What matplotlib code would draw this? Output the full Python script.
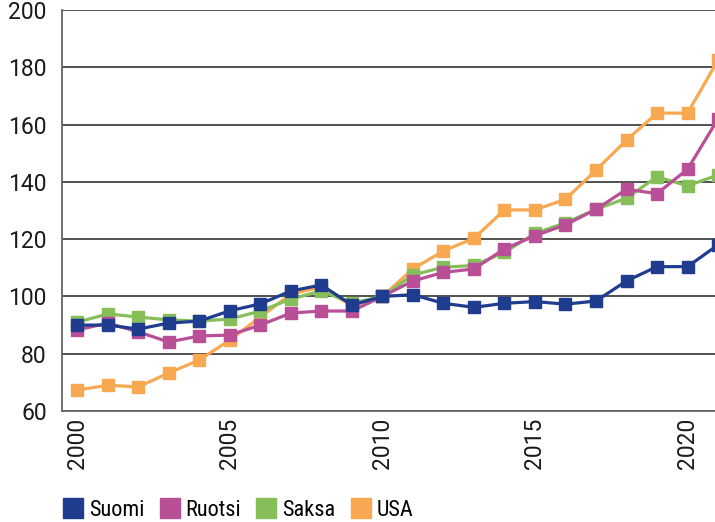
import matplotlib
matplotlib.use("Agg")
import matplotlib.pyplot as plt
from matplotlib.lines import Line2D
from matplotlib import font_manager

names = {f.name for f in font_manager.fontManager.ttflist}
narrow = [n for n in ["Liberation Sans Narrow", "Roboto Condensed", "Open Sans Condensed",
                      "DejaVu Sans"] if n in names]
plt.rcParams['font.family'] = ['Roboto', 'DejaVu Sans']

years = list(range(2000, 2022))
suomi = [90.0, 90.0, 88.6, 90.7, 91.4, 95.0, 97.4, 101.9, 104.0, 97.0, 100.0,
         100.6, 97.6, 96.2, 97.6, 98.2, 97.3, 98.4, 105.4, 110.4, 110.4, 118.0]
ruotsi = [88.3, 90.7, 87.6, 84.1, 86.2, 86.5, 90.0, 94.2, 94.9, 94.9, 100.0,
          105.4, 108.4, 109.6, 116.6, 121.2, 125.0, 130.4, 137.4, 135.9, 144.4, 162.0]
saksa = [91.0, 93.9, 92.8, 91.8, 91.4, 92.1, 94.9, 99.1, 101.9, 97.7, 100.0,
         107.5, 110.2, 110.8, 115.4, 122.0, 125.7, 130.4, 134.3, 141.8, 138.6, 142.4]
usa = [67.3, 69.0, 68.4, 73.3, 77.8, 84.8, 92.8, 100.8, 103.3, 96.7, 100.0,
       109.6, 115.9, 120.3, 130.2, 130.2, 133.9, 144.1, 154.6, 164.0, 164.0, 182.5]

series = [("Suomi", suomi, "#1f3c8f"), ("Ruotsi", ruotsi, "#b94f97"),
          ("Saksa", saksa, "#86bf5a"), ("USA", usa, "#f7a850")]

fig = plt.figure(figsize=(7.15, 5.22), dpi=100)
ax = fig.add_axes([62 / 715, 1 - 411 / 522, 1 - 62 / 715, 401 / 522])

for i, (name, vals, col) in enumerate(series):
    ax.plot(years, vals, color=col, lw=2.3, marker="s", markersize=9,
            zorder=10 - i, clip_on=True)

ax.set_ylim(60, 200)
ax.set_xlim(1999.5, 2020.9)
ax.set_yticks(range(60, 201, 20))
ax.set_xticks(range(2000, 2021, 5))
ax.set_xticklabels([str(y) for y in range(2000, 2021, 5)], rotation=90)
ax.tick_params(axis="both", length=0, labelsize=16.5, colors="#1a1a1a")
ax.tick_params(axis="x", pad=5)
ax.tick_params(axis="y", pad=11)
ax.grid(axis="y", color="#222222", lw=1.1, zorder=0)
for s in ["top", "right"]:
    ax.spines[s].set_visible(False)
for s in ["left", "bottom"]:
    ax.spines[s].set_color("#666666")
    ax.spines[s].set_linewidth(1.3)

handles = [Line2D([], [], marker="s", ls="none", markersize=14, color=c,
                  label=n) for n, _, c in series]
leg = fig.legend(handles=handles, loc="lower left", bbox_to_anchor=(39 / 715, -0.036),
                 ncol=4, frameon=False, handletextpad=0.05,
                 columnspacing=0.5, handlelength=1.3,
                 prop={'family': narrow + ['DejaVu Sans'], 'stretch': 'condensed',
                       'size': 16})

fig.savefig("out.png", dpi=100)
